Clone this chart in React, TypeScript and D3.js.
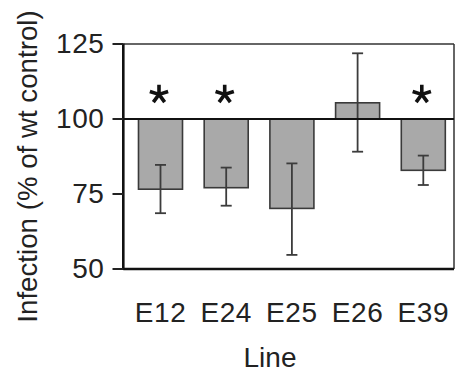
import React from "react";
import * as d3 from "d3";

const categories = ["E12", "E24", "E25", "E26", "E39"];
const values = [76.6, 77.1, 70.2, 105.4, 82.9];
const errLow = [68.6, 71.1, 54.7, 89.1, 78.0];
const errHigh = [84.7, 83.8, 85.2, 121.9, 87.8];
const significant = [true, true, false, false, true];
const yTicks = [50, 75, 100, 125];
const baseline = 100;
const starValue = 108.2;

const W = 456;
const H = 371;
const FONT = "'Liberation Sans', Arial, Helvetica, sans-serif";

function starPath(cx: number, cy: number, r: number) {
  const p = d3.path();
  for (let i = 0; i < 5; i++) {
    const a = ((-90 + i * 72) * Math.PI) / 180;
    p.moveTo(cx, cy);
    p.lineTo(cx + r * Math.cos(a), cy + r * Math.sin(a));
  }
  return p.toString();
}

export default function App() {
  const left = 123.3;
  const right = 454;
  const top = 44;
  const bottom = 269;

  const y = d3.scaleLinear().domain([50, 125]).range([bottom, top]);
  const x = d3
    .scaleBand<string>()
    .domain(categories)
    .range([127.65, 456.15])
    .paddingInner(0.33)
    .paddingOuter(0.165);
  const bw = x.bandwidth();
  const cap = 5.5;

  return (
    <svg
      width={W}
      height={H}
      style={{ position: "absolute", left: 0, top: 0, background: "#fff" }}
      fontFamily={FONT}
    >
      <rect x={0} y={0} width={W} height={H} fill="#fff" />
      {/* bars */}
      {categories.map((c, i) => {
        const x0 = x(c)!;
        const v = values[i];
        const y0 = Math.min(y(v), y(baseline));
        const h = Math.abs(y(v) - y(baseline));
        return (
          <rect
            key={c}
            x={x0}
            y={y0}
            width={bw}
            height={h}
            fill="#a9a9a9"
            stroke="#3a3a3a"
            strokeWidth={1.6}
          />
        );
      })}
      {/* error bars */}
      {categories.map((c, i) => {
        const cx = x(c)! + bw / 2;
        return (
          <g key={"e" + c} stroke="#3c3c3c" strokeWidth={1.8}>
            <line x1={cx} x2={cx} y1={y(errHigh[i])} y2={y(errLow[i])} />
            <line x1={cx - cap} x2={cx + cap} y1={y(errHigh[i])} y2={y(errHigh[i])} />
            <line x1={cx - cap} x2={cx + cap} y1={y(errLow[i])} y2={y(errLow[i])} />
          </g>
        );
      })}
      {/* frame */}
      <line x1={left} x2={right} y1={y(125)} y2={y(125)} stroke="#333" strokeWidth={1.5} />
      <line x1={right} x2={right} y1={top} y2={bottom} stroke="#333" strokeWidth={1.5} />
      <line x1={left} x2={right} y1={y(baseline)} y2={y(baseline)} stroke="#111" strokeWidth={2} />
      <line x1={left} x2={right} y1={bottom} y2={bottom} stroke="#111" strokeWidth={2.6} />
      <line x1={left} x2={left} y1={top - 0.5} y2={bottom + 1} stroke="#111" strokeWidth={2.6} />
      {/* y ticks */}
      {yTicks.map((t) => (
        <g key={t}>
          <line x1={112.5} x2={left} y1={y(t)} y2={y(t)} stroke="#222" strokeWidth={2} />
          <text
            x={104.5}
            y={y(t) + 8.8}
            textAnchor="end"
            fontSize={28}
            letterSpacing={0.6}
            fill="#222"
          >
            {t}
          </text>
        </g>
      ))}
      {/* x labels */}
      {categories.map((c) => (
        <text
          key={"l" + c}
          x={x(c)! + bw / 2}
          y={321.7}
          textAnchor="middle"
          fontSize={28}
          letterSpacing={0.6}
          fill="#222"
        >
          {c}
        </text>
      ))}
      {/* asterisks */}
      {categories.map((c, i) =>
        significant[i] ? (
          <path
            key={"s" + c}
            d={starPath(x(c)! + bw / 2 - 1.5, y(starValue), 9.6)}
            stroke="#111"
            strokeWidth={3.6}
            strokeLinecap="butt"
            fill="none"
          />
        ) : null
      )}
      {/* axis titles */}
      <text x={270} y={366.5} textAnchor="middle" fontSize={28} fill="#222">
        Line
      </text>
      <text
        transform="translate(36.7,166.5) rotate(-90)"
        textAnchor="middle"
        fontSize={27.7}
        fill="#222"
      >
        Infection (% of wt control)
      </text>
    </svg>
  );
}
